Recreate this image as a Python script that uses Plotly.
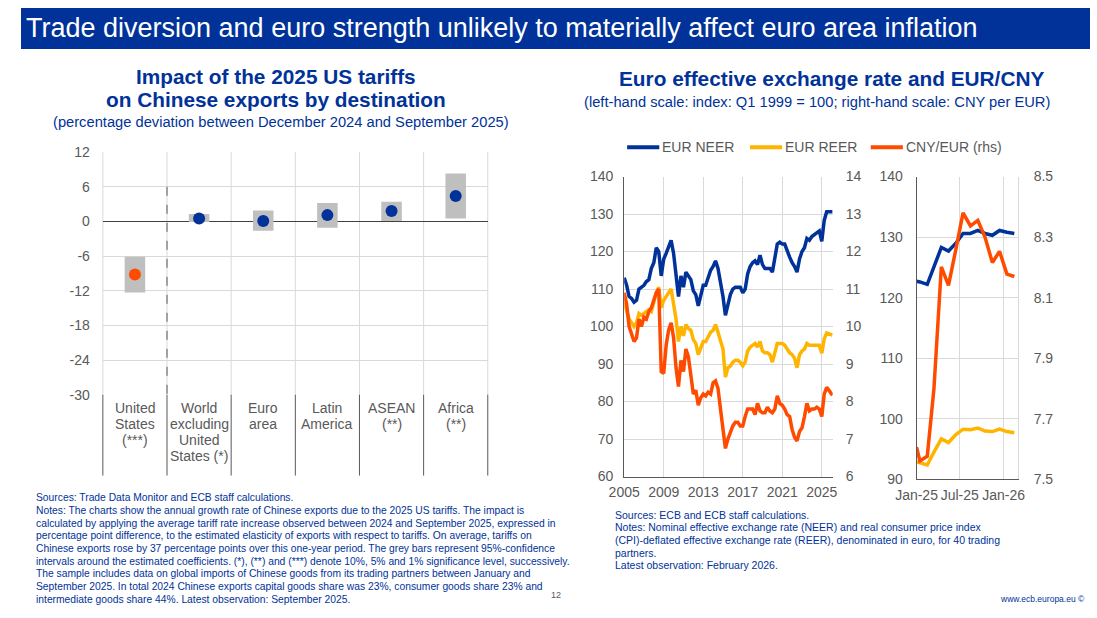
import plotly.graph_objects as go
import pandas as pd

FONT = "Liberation Sans, Arial, sans-serif"
ECB_BLUE = "#003299"
YELLOW = "#FFB400"
ORANGE = "#FF4B00"
GREY_TXT = "#595959"
GRID = "#D9D9D9"

# --- left chart: impact of the 2025 US tariffs on Chinese exports ---
destinations = ["United States", "World excluding United States", "Euro area",
                "Latin America", "ASEAN", "Africa"]
destination_labels = ["United<br>States<br>(***)", "World<br>excluding<br>United<br>States (*)",
                      "Euro<br>area", "Latin<br>America", "ASEAN<br>(**)", "Africa<br>(**)"]
impact = [-9.2, 0.5, 0.1, 1.1, 1.8, 4.4]
ci_low = [-12.3, -0.1, -1.6, -1.1, 0.1, 0.5]
ci_high = [-6.1, 1.3, 1.9, 3.2, 3.4, 8.3]
impact_ticks = [-30, -24, -18, -12, -6, 0, 6, 12]
impact_tick_labels = ["-30", "-24", "-18", "-12", "-6", "0", "6", "12"]

# --- right chart: euro effective exchange rates, quarterly readings 2005 Q1 - Feb 2026 ---
lr_dates = list(pd.date_range("2005-01-01", "2026-01-01", freq="QS").strftime("%Y-%m-%d")) + ["2026-02-01"]
neer = [113, 111, 108, 107.5, 106.5, 107, 110, 110.5, 111, 112, 112.5, 115.5,
        117, 121, 120, 113.5, 118, 119.5, 121, 123, 119.5, 114, 108, 113.5,
        110.5, 114.5, 113.5, 112.5, 109.5, 108.5, 105.5, 108.5, 111, 111, 113, 115,
        116, 117.5, 115.5, 112, 108, 103, 106, 108.5, 110, 110.5, 110.5, 110.5,
        109, 110, 114, 116, 117, 117.5, 116.5, 119, 116.5, 115.5, 115.5, 115.5,
        114.5, 118, 122, 122.5, 122, 122, 120, 118.5, 117, 116, 114.5, 118,
        120, 121, 123.5, 123, 124, 124.5, 125, 125.5, 122.7, 128.3, 130.6, 130.6,
        130.8, 130.6]
reer = [106.5, 104, 102, 101, 100, 101, 103.5, 103, 103.5, 104, 104.5, 104,
        107, 109, 110.5, 105, 107, 108, 109, 110, 106, 102, 96, 100,
        97.5, 100.5, 99.5, 99, 96.5, 95.5, 92.5, 94.5, 96, 96, 97.5, 98.5,
        99, 100.5, 98.5, 96, 94, 86.5, 89, 89.5, 90.5, 91, 91, 90.5,
        89.5, 90.5, 93.5, 94.5, 95, 95.5, 94.5, 96, 93.5, 93, 93, 92.5,
        90.5, 93, 95.5, 95.5, 95.5, 95, 94, 93, 92.5, 91.5, 89, 92.5,
        93.5, 94, 95.5, 95, 95, 95, 95, 95, 92.9, 96.7, 98.3, 98.0,
        97.9, 97.7]
cny_eur = [10.9, 10.6, 10.0, 9.8, 9.6, 9.7, 10.2, 10.0, 10.25, 10.2, 10.4, 10.5,
           10.7, 10.9, 11.0, 8.8, 8.75, 9.5, 9.9, 10.1, 9.7, 8.9, 8.4, 9.1,
           8.8, 9.4, 9.2, 8.7, 8.2, 8.3, 7.9, 8.1, 8.2, 8.15, 8.25, 8.2,
           8.5, 8.55, 8.35, 7.8, 7.3, 6.75, 7.0, 7.2, 7.35, 7.45, 7.45, 7.35,
           7.35, 7.6, 7.8, 7.8, 7.8, 7.65, 7.95, 7.75, 7.7, 7.7, 7.85, 7.75,
           7.7, 7.8, 8.15, 7.95, 7.9, 7.8, 7.65, 7.6, 7.25, 7.05, 6.95, 7.2,
           7.3, 7.6, 7.95, 7.75, 7.8, 7.8, 7.85, 7.8, 7.6, 8.2, 8.38, 8.29,
           8.18, 8.17]

# --- right chart zoom: monthly readings Jan 2025 - Feb 2026 ---
recent_dates = ["2025-01-01", "2025-01-15", "2025-02-15", "2025-03-15", "2025-04-15",
                "2025-05-15", "2025-06-15", "2025-07-15", "2025-08-15", "2025-09-15",
                "2025-10-15", "2025-11-15", "2025-12-15", "2026-01-15", "2026-02-15"]
neer_recent = [122.7, 122.6, 122.2, 125.0, 128.3, 127.7, 129.0, 130.6, 130.6, 131.1,
               130.6, 130.3, 131.1, 130.8, 130.6]
reer_recent = [92.9, 92.7, 92.4, 94.5, 96.7, 96.1, 97.4, 98.3, 98.2, 98.5,
               98.0, 97.9, 98.3, 97.9, 97.7]
cny_recent = [7.607, 7.561, 7.577, 7.80, 8.202, 8.141, 8.26, 8.380, 8.337, 8.355,
              8.30, 8.216, 8.253, 8.178, 8.170]

left_notes = [
    "Sources: Trade Data Monitor and ECB staff calculations.",
    "Notes: The charts show the annual growth rate of Chinese exports due to the 2025 US tariffs. The impact is",
    "calculated by applying the average tariff rate increase observed between 2024 and September 2025, expressed in",
    "percentage point difference, to the estimated elasticity of exports with respect to tariffs. On average, tariffs on",
    "Chinese exports rose by 37 percentage points over this one-year period. The grey bars represent 95%-confidence",
    "intervals around the estimated coefficients. (*), (**) and (***) denote 10%, 5% and 1% significance level, successively.",
    "The sample includes data on global imports of Chinese goods from its trading partners between January and",
    "September 2025. In total 2024 Chinese exports capital goods share was 23%, consumer goods share 23% and",
    "intermediate goods share 44%. Latest observation: September 2025.",
]
right_notes = [
    "Sources: ECB and ECB staff calculations.",
    "Notes: Nominal effective exchange rate (NEER) and real consumer price index",
    "(CPI)-deflated effective exchange rate (REER), denominated in euro, for 40 trading",
    "partners.",
    "Latest observation: February 2026.",
]

W, H = 1097, 618


def px(x):
    return x / W


def py(y):
    return 1 - y / H


fig = go.Figure()

# confidence intervals and point estimates
fig.add_trace(go.Bar(x=destinations, y=[h - l for h, l in zip(ci_high, ci_low)], base=ci_low,
                     width=0.32, marker=dict(color="#BFBFBF", line=dict(width=0)),
                     xaxis="x", yaxis="y", hoverinfo="skip"))
fig.add_trace(go.Scatter(x=destinations, y=impact, mode="markers",
                         marker=dict(size=12, color=[ORANGE] + [ECB_BLUE] * 5),
                         xaxis="x", yaxis="y"))

# long-run exchange rates
fig.add_trace(go.Scatter(x=lr_dates, y=neer, mode="lines", line=dict(color=ECB_BLUE, width=3.5),
                         xaxis="x2", yaxis="y2", name="EUR NEER"))
fig.add_trace(go.Scatter(x=lr_dates, y=reer, mode="lines", line=dict(color=YELLOW, width=3.5),
                         xaxis="x2", yaxis="y2", name="EUR REER"))
fig.add_trace(go.Scatter(x=lr_dates, y=cny_eur, mode="lines", line=dict(color=ORANGE, width=3.5),
                         xaxis="x2", yaxis="y3", name="CNY/EUR (rhs)"))

# recent exchange rates
fig.add_trace(go.Scatter(x=recent_dates, y=neer_recent, mode="lines", line=dict(color=ECB_BLUE, width=3.5),
                         xaxis="x3", yaxis="y4"))
fig.add_trace(go.Scatter(x=recent_dates, y=reer_recent, mode="lines", line=dict(color=YELLOW, width=3.5),
                         xaxis="x3", yaxis="y4"))
fig.add_trace(go.Scatter(x=recent_dates, y=cny_recent, mode="lines", line=dict(color=ORANGE, width=3.5),
                         xaxis="x3", yaxis="y5"))

tickfont = dict(family=FONT, size=14, color=GREY_TXT)

fig.update_layout(
    autosize=True, margin=dict(l=0, r=0, t=0, b=0),
    paper_bgcolor="white", plot_bgcolor="white", showlegend=False,
    font=dict(family=FONT, color=GREY_TXT),
    xaxis=dict(domain=[px(84), px(479)], anchor="y", type="category", range=[-0.5, 5.5],
               showticklabels=False, showgrid=False, showline=False, ticks=""),
    yaxis=dict(domain=[py(397), py(148)], anchor="x", range=[-30, 12],
               tickmode="array", tickvals=impact_ticks, ticktext=impact_tick_labels,
               gridcolor=GRID, zeroline=True, zerolinecolor="#404040", zerolinewidth=1,
               showline=False, ticks="", tickfont=tickfont, ticklabelstandoff=12),
    xaxis2=dict(domain=[px(619), px(833)], anchor="y2", type="date",
                range=["2005-01-01", "2026-02-10"], tick0="2005-01-01", dtick="M48", tickformat="%Y",
                showgrid=True, gridcolor=GRID, showline=True, linecolor=GREY_TXT,
                ticks="", tickfont=tickfont, tickangle=0, ticklabelstandoff=3),
    yaxis2=dict(domain=[py(481), py(173)], anchor="x2", range=[60, 140], dtick=10,
                gridcolor=GRID, zeroline=False, showline=True, linecolor=GREY_TXT,
                ticks="", tickfont=tickfont, ticklabelstandoff=7),
    yaxis3=dict(overlaying="y2", anchor="x2", side="right", range=[6, 14], dtick=1,
                showgrid=False, zeroline=False, showline=False, ticks="", tickfont=tickfont,
                ticklabelstandoff=12),
    xaxis3=dict(domain=[px(919), px(1023)], anchor="y4", type="date",
                range=["2025-01-01", "2026-03-02"], tick0="2025-01-01", dtick="M6", tickformat="%b-%y",
                showgrid=True, gridcolor=GRID, showline=True, linecolor=GREY_TXT,
                ticks="", tickfont=tickfont, tickangle=0, ticklabelstandoff=3),
    yaxis4=dict(domain=[py(484), py(173)], anchor="x3", range=[90, 140], dtick=10,
                gridcolor=GRID, zeroline=False, showline=True, linecolor=GREY_TXT,
                ticks="", tickfont=tickfont, ticklabelstandoff=10),
    yaxis5=dict(overlaying="y4", anchor="x3", side="right", range=[7.5, 8.5], tick0=7.5, dtick=0.2,
                tickformat=".1f", showgrid=False, zeroline=False, showline=True, linecolor=GRID,
                ticks="", tickfont=tickfont, ticklabelstandoff=12),
)

shapes = [dict(type="rect", xref="paper", yref="paper", x0=0, x1=1, y0=py(42), y1=1,
               fillcolor=ECB_BLUE, line=dict(width=0), layer="below")]
# category boundaries: light grid in the plot, dark separators under it
for k in range(len(destinations) + 1):
    shapes.append(dict(type="line", xref="x domain", yref="y domain", x0=k / 6, x1=k / 6, y0=0, y1=1,
                       line=dict(color=GRID, width=1), layer="below"))
    shapes.append(dict(type="line", xref="x domain", yref="paper", x0=k / 6, x1=k / 6,
                       y0=py(397), y1=py(480), line=dict(color="#595959", width=1)))
shapes.append(dict(type="line", xref="x", yref="y", x0=0.5, x1=0.5, y0=6, y1=-30,
                   line=dict(color="#595959", width=1, dash="dash")))

annotations = []

# category labels under the left chart, one line at a time
for cat, label in zip(destinations, destination_labels):
    for i, part in enumerate(label.split("<br>")):
        annotations.append(dict(text=part, x=cat, xref="x", y=py(411 + 16.3 * i), yref="paper",
                                xanchor="center", yanchor="middle", showarrow=False,
                                font=dict(family=FONT, size=14, color=GREY_TXT)))

# legend swatches
legend_items = [("EUR NEER", ECB_BLUE, 622), ("EUR REER", YELLOW, 748), ("CNY/EUR (rhs)", ORANGE, 872)]
for name, color, x0 in legend_items:
    shapes.append(dict(type="line", xref="paper", yref="paper", x0=px(x0), x1=px(x0 + 33),
                       y0=py(143), y1=py(143), line=dict(color=color, width=4)))
    annotations.append(dict(text=name, x=px(x0 + 34), y=py(143), xref="paper", yref="paper",
                            xanchor="left", yanchor="middle", showarrow=False,
                            font=dict(family=FONT, size=14, color=GREY_TXT)))

fig.update_layout(shapes=shapes)


def note(text, x, y, size, color, xanchor="left", yanchor="middle", align="left"):
    annotations.append(dict(text=text, x=px(x), y=py(y), xref="paper", yref="paper",
                            xanchor=xanchor, yanchor=yanchor, align=align, showarrow=False,
                            font=dict(family=FONT, size=size, color=color)))


note("Trade diversion and euro strength unlikely to materially affect euro area inflation",
     3, 21, 27, "white")
note("<b>Impact of the 2025 US tariffs</b>", 262, 70, 20.8, ECB_BLUE, xanchor="center")
note("<b>on Chinese exports by destination</b>", 262, 94, 20.8, ECB_BLUE, xanchor="center")
note("(percentage deviation between December 2024 and September 2025)", 267, 117, 14.7, ECB_BLUE,
     xanchor="center")
note("<b>Euro effective exchange rate and EUR/CNY</b>", 832, 72, 20.8, ECB_BLUE, xanchor="center")
note("(left-hand scale: index: Q1 1999 = 100; right-hand scale: CNY per EUR)", 817, 97, 14.7, ECB_BLUE,
     xanchor="center")
for i, line in enumerate(left_notes):
    note(line, 13, 503 + 13 * i, 10.3, ECB_BLUE)
for i, line in enumerate(right_notes):
    note(line, 608, 520 + 13 * i, 10.5, ECB_BLUE)
note("12", 549, 603, 9, GREY_TXT, xanchor="center")
note("www.ecb.europa.eu ©", 1094, 607, 8.5, ECB_BLUE, xanchor="right")

fig.update_layout(annotations=annotations)

# pin the 1097x618 figure to the top-left corner of the page, outside the body margin
fig.write_html("out.html", config={"displayModeBar": False},
               default_width="1097px",
               default_height="618px; position:absolute; left:0; top:0")
